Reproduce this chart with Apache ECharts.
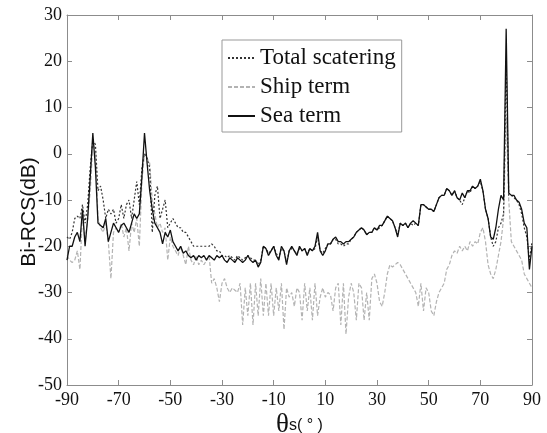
<!DOCTYPE html>
<html><head><meta charset="utf-8">
<script src="https://cdn.jsdelivr.net/npm/echarts@6/dist/echarts.min.js"></script>
<style>html,body{margin:0;padding:0;background:#fff}#c{width:547px;height:433px}</style>
</head><body><div id="c"></div><script>
// scattering angle grid (degrees), 1 degree step
const thetaStart = -90, thetaEnd = 90;
const theta = [];
for (let a = thetaStart; a <= thetaEnd; a++) theta.push(a);

const xTicks = [-90, -70, -50, -30, -10, 10, 30, 50, 70, 90];
const yTicks = [-50, -40, -30, -20, -10, 0, 10, 20, 30];

const totalScattering = [
 -18, -18.5, -17, -14, -13.5, -14, -11, -15, -11, -3,
 3, 2, -8, -7, -10, -14, -12, -13, -12, -15,
 -14, -11, -14, -11, -10, -14, -10, -6, -11, -3,
 0, -1, -3, -17, -9, -7, -14, -12, -10, -16,
 -15, -14, -15, -16, -16, -17, -17, -18, -19, -20,
 -20, -20, -20, -20, -20, -20, -19.5, -20, -21, -21,
 -22, -22, -22.5, -22, -22.5, -23, -22, -22.5, -23, -22.5,
 -22, -22.5, -23, -23, -24, -23, -20, -20.5, -21.5, -21,
 -20, -21.5, -22.5, -20.5, -21, -23.5, -21, -20.5, -21, -21.5,
 -20.5, -21, -20.5, -21.5, -20.5, -21, -20.5, -18, -21, -21.5,
 -20.5, -19.5, -19.5, -18.5, -18.5, -19.5, -19.5, -20, -19.5, -19.5,
 -18.5, -18, -17, -16.5, -16, -16.5, -17.5, -17, -17, -16,
 -16.5, -16, -15.5, -14.5, -13.5, -14, -14.5, -16, -17.5, -15,
 -15.5, -15, -16, -15, -15.5, -15, -15.5, -11, -11, -11.5,
 -12, -12, -12.5, -11, -9.5, -9, -9, -7.5, -8, -9,
 -8, -9.5, -10, -11, -9.5, -8, -8.5, -7, -7.5, -7,
 -6, -8, -12, -14, -18, -20, -19, -16, -15, -13,
 20, -9, -9, -9.5, -10, -11, -13, -16, -18, -23, -19
];

const shipTerm = [
 -22, -23, -23.5, -23, -21, -25, -13, -19, -14, -8,
 2, 1, -14, -16, -17, -15, -19, -27, -17, -16,
 -17, -15, -18, -16, -21, -15, -17, -14, -20, -6,
 0, -1, -2, -10, -13, -16, -15, -17, -16, -23,
 -18, -20, -21, -22, -20, -22, -24, -20, -23, -24,
 -22, -24, -23, -24, -23, -22, -28, -27, -29, -32,
 -28, -27, -29, -30, -29, -29.5, -30, -28, -37, -29,
 -35, -28, -37, -28, -35, -27, -35, -28, -35, -28,
 -35, -29, -34, -28, -38, -29, -31, -30, -33, -29,
 -30, -36, -28, -34, -29, -36, -28, -35, -31, -29,
 -31, -30, -30.5, -34, -29, -28, -37, -28, -39, -31,
 -28, -30, -36, -28, -29, -36, -30, -36, -27, -26,
 -28, -32, -33, -30, -26, -24, -24.5, -24, -23.5, -24,
 -25, -26, -27, -28, -29, -30, -33, -28, -34, -29,
 -30, -34, -35, -32, -30, -29, -28, -25, -24, -22,
 -21, -21.5, -20, -21, -20, -21, -19, -20, -19, -19.5,
 -17, -16, -19, -24, -26, -27, -25, -22, -19, -14,
 8, -10, -19, -20, -21, -22, -23, -26, -27, -28, -29
];

const seaTerm = [
 -23, -20, -20, -18, -17, -19, -12, -20, -14, -5,
 4.5, -3, -15, -15.5, -16, -14, -19, -17, -15, -16,
 -17, -15.5, -15, -16, -17, -15, -13, -14, -13, -5,
 4.5, -2, -8, -12, -15, -16, -17, -19.5, -17, -18,
 -16.5, -19, -20, -21, -20, -21.5, -21, -22, -22.5, -22,
 -23, -22, -22.5, -22, -23, -22, -22.5, -23, -22, -22.5,
 -22, -23, -23.5, -22.5, -23, -23.5, -22.5, -23, -23.5, -23,
 -22, -23, -23.5, -23, -24.5, -23.5, -20, -20.5, -22, -21,
 -20, -22, -23, -20, -21, -24, -21, -20, -21, -22,
 -20, -21, -20.5, -22, -20.5, -21, -20, -17, -21, -22,
 -21, -19.5, -19.5, -18.5, -18, -19, -19, -19.5, -19, -19,
 -18.5, -18, -17, -16.5, -16, -16.5, -17.5, -17, -17, -16,
 -16.5, -15.5, -15.5, -14.5, -13.5, -14, -14.5, -16, -18, -15,
 -15.5, -15, -16, -15, -14.5, -15, -15.5, -11, -11, -11.5,
 -12, -12, -12.5, -11, -9.5, -9, -9, -7.5, -8, -9,
 -8, -9.5, -10, -8.5, -9.5, -8, -8, -7, -7.5, -7,
 -5.5, -8, -12, -14, -18, -18.5, -16, -12, -9, -10,
 27, -8.5, -9, -9, -10, -10.5, -12, -15, -16, -25, -20
];

const pair = arr => theta.map((t, i) => [t, arr[i]]);

const axisColor = '#8c8c8c';
const serif = 'Liberation Serif, Times New Roman, serif';
const tickLabel = { fontFamily: serif, fontSize: 18, color: '#111' };

const chart = echarts.init(document.getElementById('c'), null, { renderer: 'canvas' });
chart.setOption({
  animation: false,
  backgroundColor: '#fff',
  grid: { left: 67, right: 15, top: 15, bottom: 48, containLabel: false, outerBoundsMode: 'none' },
  legend: {
    orient: 'vertical', left: 222, top: 40,
    data: ['Total scatering', 'Ship term', 'Sea term'],
    itemWidth: 27, itemHeight: 10, itemGap: 3,
    padding: [5, 6, 3, 5],
    borderColor: '#999', borderWidth: 1, backgroundColor: '#fff',
    itemStyle: { opacity: 0 },
    textStyle: { fontFamily: serif, fontSize: 23, color: '#111', lineHeight: 26 }
  },
  xAxis: [{
    type: 'value', min: xTicks[0], max: xTicks[xTicks.length - 1], interval: 20,
    name: '{t|θ}{s|s( ° )}', nameLocation: 'middle', nameGap: 26, nameMoveOverlap: false,
    nameTextStyle: { rich: {
      t: { fontFamily: serif, fontSize: 27, color: '#111' },
      s: { fontFamily: 'Liberation Sans, Arial, sans-serif', fontSize: 16, color: '#111', padding: [3, 0, 0, 0] }
    } },
    axisLine: { onZero: false, lineStyle: { color: axisColor } },
    axisTick: { inside: true, length: 5, lineStyle: { color: axisColor } },
    axisLabel: Object.assign({ margin: 6 }, tickLabel),
    splitLine: { show: false }
  }, {
    type: 'value', position: 'top', min: xTicks[0], max: xTicks[xTicks.length - 1], interval: 20,
    axisLine: { onZero: false, lineStyle: { color: axisColor } },
    axisTick: { inside: true, length: 5, lineStyle: { color: axisColor } },
    axisLabel: { show: false }, splitLine: { show: false }
  }],
  yAxis: [{
    type: 'value', min: yTicks[0], max: yTicks[yTicks.length - 1], interval: 10,
    name: 'Bi-RCS(dB)', nameLocation: 'middle', nameGap: 27, nameMoveOverlap: false,
    nameTextStyle: { fontFamily: 'Liberation Sans, Arial, sans-serif', fontSize: 21, color: '#111', padding: [0, 24, 0, 0] },
    axisLine: { show: true, onZero: false, lineStyle: { color: axisColor } },
    axisTick: { show: true, inside: true, length: 5, lineStyle: { color: axisColor } },
    axisLabel: Object.assign({ margin: 5 }, tickLabel),
    splitLine: { show: false }
  }, {
    type: 'value', position: 'right', min: yTicks[0], max: yTicks[yTicks.length - 1], interval: 10,
    axisLine: { show: true, onZero: false, lineStyle: { color: axisColor } },
    axisTick: { show: true, inside: true, length: 5, lineStyle: { color: axisColor } },
    axisLabel: { show: false }, splitLine: { show: false }
  }],
  series: [
    { name: 'Ship term', type: 'line', symbol: 'none', data: pair(shipTerm),
      lineStyle: { color: '#b3b3b3', width: 1.2, type: [4, 2] }, itemStyle: { color: '#b3b3b3' } },
    { name: 'Total scatering', type: 'line', symbol: 'none', data: pair(totalScattering),
      lineStyle: { color: '#333', width: 1.2, type: [2, 2] }, itemStyle: { color: '#333' } },
    { name: 'Sea term', type: 'line', symbol: 'none', data: pair(seaTerm),
      lineStyle: { color: '#111', width: 1.3 }, itemStyle: { color: '#111' } }
  ]
});
</script></body></html>
